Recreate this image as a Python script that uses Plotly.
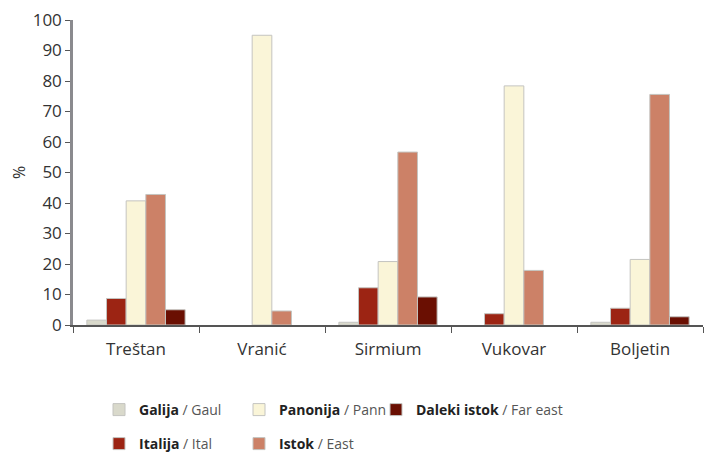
import plotly.graph_objects as go

categories = ["Treštan", "Vranić", "Sirmium", "Vukovar", "Boljetin"]
galija = [1.6, 0, 0.9, 0, 0.9]
italija = [8.7, 0, 12.2, 3.7, 5.5]
panonija = [40.7, 95.0, 20.8, 78.4, 21.5]
istok = [42.8, 4.6, 56.7, 17.9, 75.6]
daleki = [5.0, 0, 9.2, 0, 2.7]

# name, values, colour, legend id, legend box left (px), legend row y (px)
series = [
    ("<b>Galija</b> <span style='color:#555'>/ Gaul</span>", galija, "#d9d9cb", "legend2", 113, 410),
    ("<b>Italija</b> <span style='color:#555'>/ Ital</span>", italija, "#9c2413", "legend3", 113, 444),
    ("<b>Panonija</b> <span style='color:#555'>/ Pann</span>", panonija, "#faf5d8", "legend4", 253, 410),
    ("<b>Istok</b> <span style='color:#555'>/ East</span>", istok, "#cc8167", "legend5", 253, 444),
    ("<b>Daleki istok</b> <span style='color:#555'>/ Far east</span>", daleki, "#6a0f02", "legend6", 390, 410),
]

W, H = 704, 457
fig = go.Figure()
legends = {}
for name, vals, color, leg, bx, by in series:
    fig.add_trace(go.Bar(
        x=categories, y=vals, name=name, legend=leg, showlegend=True,
        marker=dict(color=color,
                    line=dict(color="#c4c4c0", width=[0 if v == 0 else 1 for v in vals])),
    ))
    legends[leg] = dict(
        orientation="h", xref="container", yref="container",
        x=(bx - 14) / W, xanchor="left", y=1 - by / H, yanchor="middle",
        font=dict(size=14, color="#222"), itemwidth=30, bgcolor="rgba(0,0,0,0)",
    )

fig.update_layout(
    width=W, height=H, showlegend=True,
    margin=dict(l=73, r=1, t=20, b=132, autoexpand=False),
    barmode="group", bargap=0.22, bargroupgap=0,
    plot_bgcolor="white", paper_bgcolor="white",
    font=dict(family="Open Sans, Noto Sans, sans-serif", color="#333", size=15),
    **legends,
)
fig.update_xaxes(
    showline=True, linecolor="#555", linewidth=1.5,
    ticks="outside", tickson="boundaries", ticklen=6, tickcolor="#555",
    tickfont=dict(size=17, color="#333"), showgrid=False, ticklabelstandoff=8,
)
fig.update_yaxes(
    range=[0, 100], dtick=10, showline=True, linecolor="#8a8a8e", linewidth=2.5,
    ticks="outside", ticklen=5, tickcolor="#555", showgrid=False, zeroline=False,
    tickfont=dict(size=17, color="#333"),
    title=dict(text="%", font=dict(size=16, color="#333"), standoff=4),
)
fig.write_html("out.html", config={"displayModeBar": False},
               post_script="document.body.style.margin='0';document.body.style.overflow='hidden';")
